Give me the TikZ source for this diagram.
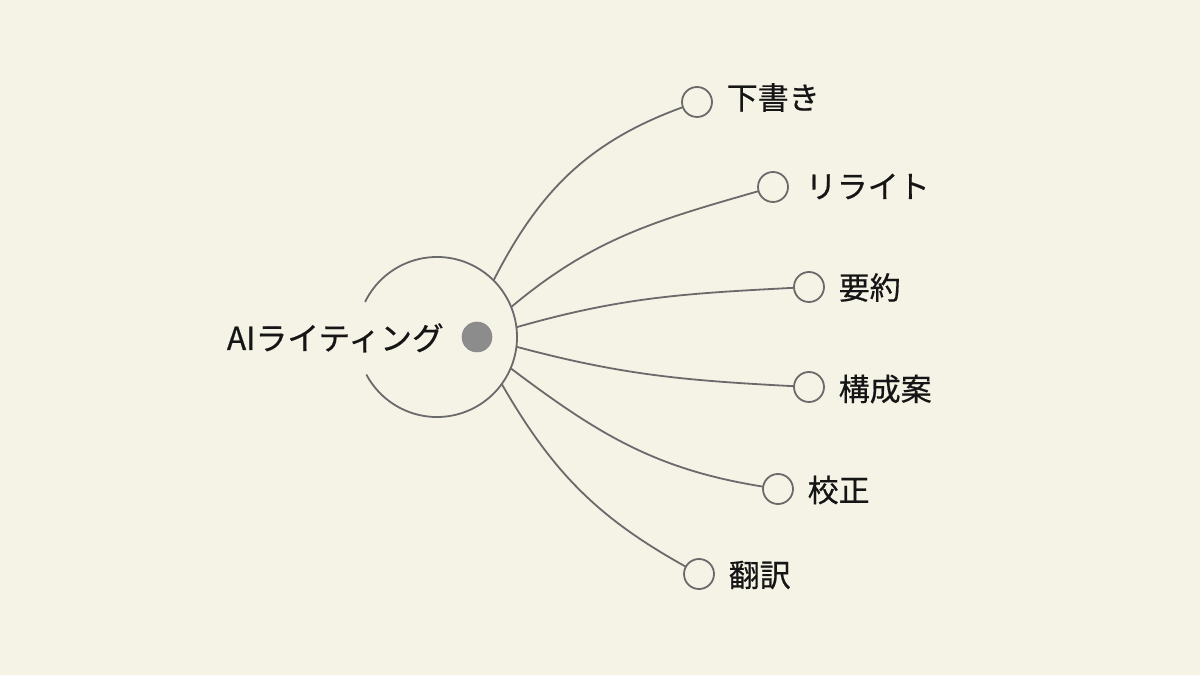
\documentclass[tikz,border=0pt]{standalone}
\usepackage{fontspec}
\setmainfont{Noto Sans CJK JP}
\newfontfamily\jpfont[FakeBold=0.5,AutoFakeBold=0.5]{Noto Sans CJK JP}
\definecolor{bgc}{HTML}{F5F2E6}
\definecolor{strokec}{HTML}{6A6A6A}
\definecolor{dotc}{HTML}{8C8C8C}
\definecolor{txtc}{HTML}{151515}
\begin{document}
\begin{tikzpicture}[x=1pt,y=1pt,
  conn/.style={draw=strokec,line width=1.8pt},
  leafc/.style={circle,draw=strokec,line width=1.8pt,minimum size=30pt,inner sep=0pt,outer sep=0pt},
  lbl/.style={anchor=west,inner sep=0pt,text=txtc,font=\jpfont\fontsize{31}{37}\selectfont},
  hubc/.style={circle,minimum size=160pt,inner sep=0pt,outer sep=0pt},
  dotn/.style={circle,fill=dotc,draw=strokec!80,line width=0.6pt,minimum size=30pt,inner sep=0pt}]
\fill[bgc] (0,0) rectangle (1200,675);
\useasboundingbox (0,0) rectangle (1200,675);
% hub
\node[hubc] (hub) at (437,338) {};
\draw[conn] (hub.154) arc[start angle=154,end angle=-152,radius=80pt];
\node[dotn] (dot) at (477,338) {};
\node[anchor=base east,inner sep=0pt,text=txtc,font=\jpfont\fontsize{31.8}{38}\selectfont] (title) at (444,325) {AIライティング};
% leaves
\node[leafc] (l1) at (697,573) {};
\node[leafc] (l2) at (773,488) {};
\node[leafc] (l3) at (809,388) {};
\node[leafc] (l4) at (809,288) {};
\node[leafc] (l5) at (778,186) {};
\node[leafc] (l6) at (699,101) {};
\node[lbl] (t1) at (726.5,577.5) {下書き};
\node[lbl] (t2) at (805.5,488.5) {リライト};
\node[lbl] (t3) at (838.5,387.5) {要約};
\node[lbl] (t4) at (838.5,286) {構成案};
\node[lbl] (t5) at (807.5,185) {校正};
\node[lbl] (t6) at (728.5,100) {翻訳};
% connectors
\draw[conn] (hub.45.5) to[out=63,in=200] (l1);
\draw[conn] (hub.22) to[out=40,in=196] (l2);
\draw[conn] (hub.7) to[out=16,in=183] (l3);
\draw[conn] (hub.-7) to[out=-15,in=177] (l4);
\draw[conn] (hub.-23) to[out=-37,in=171] (l5);
\draw[conn] (hub.-36.4) to[out=-60,in=151] (l6);
\end{tikzpicture}
\end{document}
